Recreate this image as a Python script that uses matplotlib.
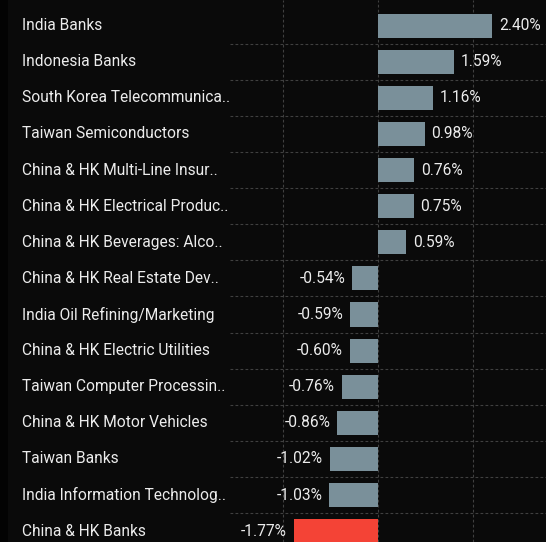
import matplotlib
matplotlib.use("Agg")
import matplotlib.pyplot as plt
from matplotlib.transforms import blended_transform_factory
from matplotlib.patches import Rectangle

# Data
categories = [
    "India Banks",
    "Indonesia Banks",
    "South Korea Telecommunica..",
    "Taiwan Semiconductors",
    "China & HK Multi-Line Insur..",
    "China & HK Electrical Produc..",
    "China & HK Beverages: Alco..",
    "China & HK Real Estate Dev..",
    "India Oil Refining/Marketing",
    "China & HK Electric Utilities",
    "Taiwan Computer Processin..",
    "China & HK Motor Vehicles",
    "Taiwan Banks",
    "India Information Technolog..",
    "China & HK Banks",
]
values = [2.40, 1.59, 1.16, 0.98, 0.76, 0.75, 0.59,
          -0.54, -0.59, -0.60, -0.76, -0.86, -1.02, -1.03, -1.77]
highlight = ["China & HK Banks"]

bg = "#0a0a0a"
bar_color = "#7a909a"
red = "#f44336"
grid_color = "#404040"
text_color = "#ececec"

plt.rcParams["font.family"] = ["Roboto", "DejaVu Sans"]

fig = plt.figure(figsize=(5.46, 5.42), dpi=100, facecolor=bg)
# darker strip at far left
fig.patches.append(Rectangle((0, 0), 8 / 546, 1, transform=fig.transFigure,
                             facecolor="#030303", edgecolor="none", zorder=0))

ax = fig.add_axes([230 / 546, 0, 1 - 230 / 546, 1])
ax.set_facecolor(bg)

ypos = list(range(len(categories)))
colors = [red if c in highlight else bar_color for c in categories]
ax.barh(ypos, values, height=0.67, color=colors, zorder=3)

ax.set_xlim(-3.116, 3.537)
ax.set_ylim(14.30, -0.71)

ax.set_xticks([-2, 0, 2])
ax.set_yticks([y + 0.5 for y in ypos[:-1]])
ax.grid(True, color=grid_color, linestyle=(0, (2.5, 2)), linewidth=0.8, zorder=0)
ax.tick_params(length=0, labelleft=False, labelbottom=False)
for s in ax.spines.values():
    s.set_visible(False)

# category labels at fixed pixel x in figure
trans = blended_transform_factory(fig.transFigure, ax.transData)
for y, name in zip(ypos, categories):
    fig.text(22 / 546, y, name, transform=trans, ha="left", va="center",
             color=text_color, fontsize=11.2)

# value labels
for y, v in zip(ypos, values):
    label = f"{v:.2f}%"
    if v >= 0:
        ax.annotate(label, (v, y), xytext=(5, 0), textcoords="offset points",
                    ha="left", va="center", color=text_color, fontsize=11.2)
    else:
        ax.annotate(label, (v, y), xytext=(-5, 0), textcoords="offset points",
                    ha="right", va="center", color=text_color, fontsize=11.2)

fig.savefig("out.png", dpi=100, facecolor=bg)
